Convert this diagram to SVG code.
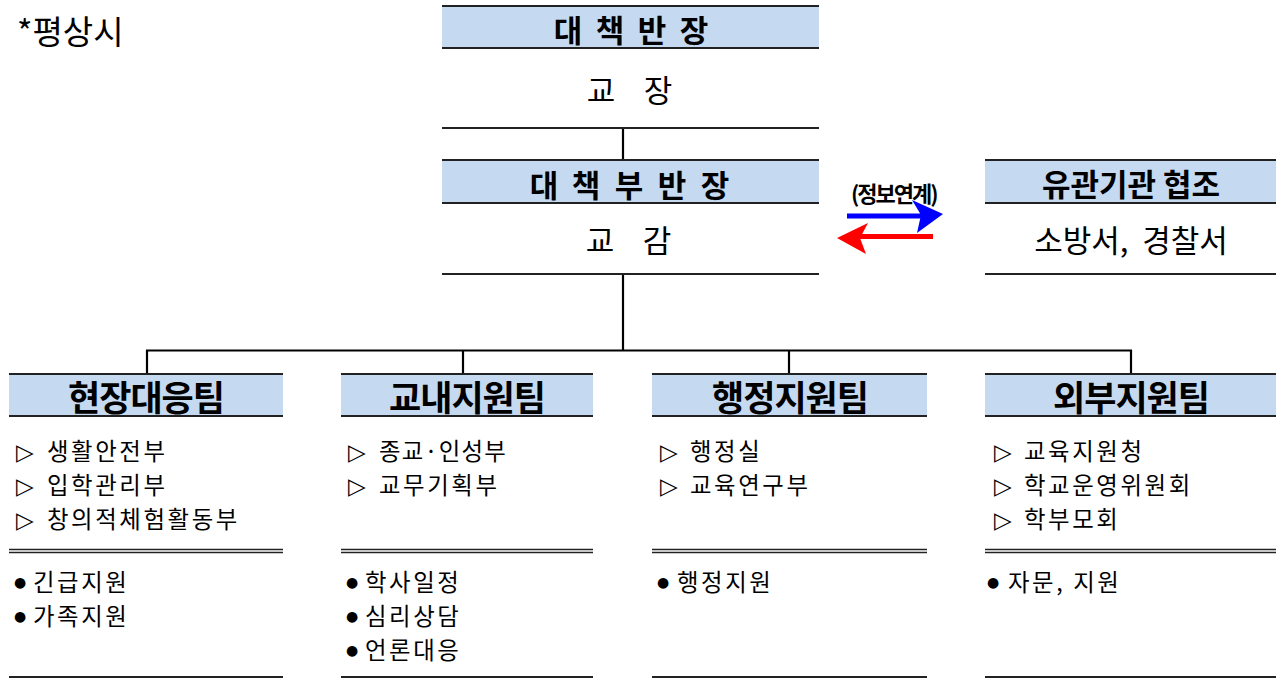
<svg xmlns="http://www.w3.org/2000/svg" width="1278" height="679" viewBox="0 0 1278 679">
<style>
text{font-family:"Noto Sans CJK KR","Noto Sans",sans-serif;fill:#000}
.hd{fill:#c5d9f1}
.ln{stroke:#222;stroke-width:2;fill:none}
.dl{stroke:#222;stroke-width:1.3;fill:none}
.cn{stroke:#000;stroke-width:2.2;fill:none}
.h1{font-size:31px;font-weight:bold;text-anchor:middle}
.n1{font-size:31px;text-anchor:middle}
.th{font-size:35px;font-weight:bold;text-anchor:middle;letter-spacing:-1px}
.it{font-size:23.4px;letter-spacing:2.6px}
.tri{font-size:23px;font-family:"DejaVu Sans",sans-serif;letter-spacing:0}
.bul{font-size:14px;font-family:"DejaVu Sans",sans-serif;letter-spacing:0}
.tt{font-size:33px}
.lb{font-size:22px;font-weight:bold;letter-spacing:-2px}
</style>
<rect width="1278" height="679" fill="#fff"/>
<text class="tt" x="17" y="44">*평상시</text>

<g id="connectors">
<line class="cn" x1="623" y1="128" x2="623" y2="160"/>
<line class="cn" x1="623" y1="274" x2="623" y2="351"/>
<line class="cn" x1="146" y1="350.5" x2="1132" y2="350.5"/>
<line class="cn" x1="147" y1="350" x2="147" y2="374"/>
<line class="cn" x1="463" y1="350" x2="463" y2="374"/>
<line class="cn" x1="789" y1="350" x2="789" y2="374"/>
<line class="cn" x1="1131" y1="350" x2="1131" y2="374"/>
<g id="info-arrows">
<line x1="847" y1="216" x2="928" y2="216" stroke="#0000ff" stroke-width="5"/>
<path d="M943,214 L912,200 L921,215 L917,233 Z" fill="#0000ff"/>
<line x1="933" y1="236.5" x2="852" y2="236.5" stroke="#ff0000" stroke-width="5"/>
<path d="M837,238 L868,223 L860,238 L866,254 Z" fill="#ff0000"/>
<text class="lb" x="851" y="202">(정보연계)</text>
</g>
</g>

<g id="chief">
<rect class="hd" x="442" y="6" width="377" height="42"/>
<line class="ln" x1="442" y1="6" x2="819" y2="6"/>
<line class="ln" x1="442" y1="48" x2="819" y2="48"/>
<line class="ln" x1="442" y1="128" x2="819" y2="128"/>
<text class="h1" x="568 610 652 694" y="42">대책반장</text>
<text class="n1" x="601 658" y="102">교장</text>
</g>

<g id="vice-chief">
<rect class="hd" x="442" y="160" width="377" height="43"/>
<line class="ln" x1="442" y1="160" x2="819" y2="160"/>
<line class="ln" x1="442" y1="203" x2="819" y2="203"/>
<line class="ln" x1="442" y1="274" x2="819" y2="274"/>
<text class="h1" x="544 586 629 672 715" y="197">대책부반장</text>
<text class="n1" x="600 657" y="252">교감</text>
</g>

<g id="agencies">
<rect class="hd" x="985" y="160" width="291" height="43"/>
<line class="ln" x1="985" y1="160" x2="1276" y2="160"/>
<line class="ln" x1="985" y1="203" x2="1276" y2="203"/>
<line class="ln" x1="985" y1="274" x2="1276" y2="274"/>
<text class="h1" x="1131" y="196">유관기관 협조</text>
<text class="n1" x="1131" y="252" font-size="30" xml:space="preserve">소방서,  경찰서</text>
</g>

<g id="team-field">
<rect class="hd" x="9" y="374" width="274" height="42"/>
<line class="ln" x1="9" y1="374" x2="283" y2="374"/>
<line class="ln" x1="9" y1="416" x2="283" y2="416"/>
<text class="th" x="146" y="411">현장대응팀</text>
<text class="it" y="460"><tspan class="tri" x="16">▷</tspan><tspan x="47">생활안전부</tspan></text>
<text class="it" y="494"><tspan class="tri" x="16">▷</tspan><tspan x="47">입학관리부</tspan></text>
<text class="it" y="528"><tspan class="tri" x="16">▷</tspan><tspan x="47">창의적체험활동부</tspan></text>
<line class="dl" x1="9" y1="549.5" x2="283" y2="549.5"/>
<line class="dl" x1="9" y1="552.5" x2="283" y2="552.5"/>
<text class="it" y="591"><tspan class="bul" x="14" dy="-4">●</tspan><tspan x="33" dy="4">긴급지원</tspan></text>
<text class="it" y="625"><tspan class="bul" x="14" dy="-4">●</tspan><tspan x="33" dy="4">가족지원</tspan></text>
<line class="ln" x1="9" y1="677" x2="283" y2="677"/>
</g>

<g id="team-school">
<rect class="hd" x="341" y="374" width="252" height="42"/>
<line class="ln" x1="341" y1="374" x2="593" y2="374"/>
<line class="ln" x1="341" y1="416" x2="593" y2="416"/>
<text class="th" x="467" y="411">교내지원팀</text>
<text class="it" y="460"><tspan class="tri" x="348">▷</tspan><tspan x="379" letter-spacing="1.2">종교·인성부</tspan></text>
<text class="it" y="494"><tspan class="tri" x="348">▷</tspan><tspan x="379">교무기획부</tspan></text>
<line class="dl" x1="341" y1="549.5" x2="593" y2="549.5"/>
<line class="dl" x1="341" y1="552.5" x2="593" y2="552.5"/>
<text class="it" y="591"><tspan class="bul" x="346" dy="-4">●</tspan><tspan x="365" dy="4">학사일정</tspan></text>
<text class="it" y="625"><tspan class="bul" x="346" dy="-4">●</tspan><tspan x="365" dy="4">심리상담</tspan></text>
<text class="it" y="659"><tspan class="bul" x="346" dy="-4">●</tspan><tspan x="365" dy="4">언론대응</tspan></text>
<line class="ln" x1="341" y1="677" x2="593" y2="677"/>
</g>

<g id="team-admin">
<rect class="hd" x="652" y="374" width="275" height="42"/>
<line class="ln" x1="652" y1="374" x2="927" y2="374"/>
<line class="ln" x1="652" y1="416" x2="927" y2="416"/>
<text class="th" x="790" y="411">행정지원팀</text>
<text class="it" y="460"><tspan class="tri" x="660">▷</tspan><tspan x="690">행정실</tspan></text>
<text class="it" y="494"><tspan class="tri" x="660">▷</tspan><tspan x="690">교육연구부</tspan></text>
<line class="dl" x1="652" y1="549.5" x2="927" y2="549.5"/>
<line class="dl" x1="652" y1="552.5" x2="927" y2="552.5"/>
<text class="it" y="591"><tspan class="bul" x="657" dy="-4">●</tspan><tspan x="677" dy="4">행정지원</tspan></text>
<line class="ln" x1="652" y1="677" x2="927" y2="677"/>
</g>

<g id="team-external">
<rect class="hd" x="985" y="374" width="291" height="42"/>
<line class="ln" x1="985" y1="374" x2="1276" y2="374"/>
<line class="ln" x1="985" y1="416" x2="1276" y2="416"/>
<text class="th" x="1131" y="411">외부지원팀</text>
<text class="it" y="460"><tspan class="tri" x="994">▷</tspan><tspan x="1024">교육지원청</tspan></text>
<text class="it" y="494"><tspan class="tri" x="994">▷</tspan><tspan x="1024">학교운영위원회</tspan></text>
<text class="it" y="528"><tspan class="tri" x="994">▷</tspan><tspan x="1024">학부모회</tspan></text>
<line class="dl" x1="985" y1="549.5" x2="1276" y2="549.5"/>
<line class="dl" x1="985" y1="552.5" x2="1276" y2="552.5"/>
<text class="it" y="591" xml:space="preserve"><tspan class="bul" x="987" dy="-4">●</tspan><tspan x="1008" dy="4">자문, 지원</tspan></text>
<line class="ln" x1="985" y1="677" x2="1276" y2="677"/>
</g>
</svg>
